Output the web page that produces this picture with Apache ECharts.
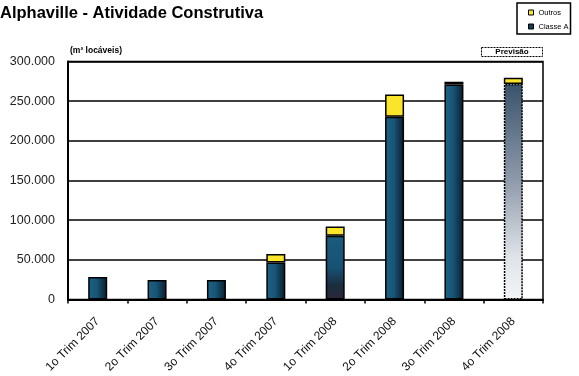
<!DOCTYPE html>
<html>
<head>
<meta charset="utf-8">
<script src="https://cdn.jsdelivr.net/npm/echarts@6/dist/echarts.min.js"></script>
<style>
  html, body { margin: 0; padding: 0; background: #fff; }
  #chart { width: 579px; height: 376px; }
</style>
</head>
<body>
<div id="chart"></div>
<script>
// Quarterly leasable area (m²) in Alphaville
const categories = ['1o Trim 2007', '2o Trim 2007', '3o Trim 2007', '4o Trim 2007',
                    '1o Trim 2008', '2o Trim 2008', '3o Trim 2008', '4o Trim 2008'];
const classeA = [28500, 24500, 24500, 46500, 80500, 230500, 271000, 271500];
const outros  = [null, null, null, 11000, 11500, 28000, 3500, 8000];
const yTicks  = [0, 50000, 100000, 150000, 200000, 250000, 300000];
const forecastIndex = 7;   // last quarter is a forecast

const FONT = 'Liberation Sans, Arial, sans-serif';

const blueGrad = {
  type: 'linear', x: 0, y: 0, x2: 1, y2: 0,
  colorStops: [
    { offset: 0, color: '#1d6286' },
    { offset: 0.45, color: '#175677' },
    { offset: 1, color: '#0a1b2b' }
  ]
};
const darkBottomGrad = {
  type: 'linear', x: 0, y: 0, x2: 0, y2: 1,
  colorStops: [
    { offset: 0, color: '#1a5b7e' },
    { offset: 0.5, color: '#175274' },
    { offset: 0.78, color: '#1b2d40' },
    { offset: 1, color: '#2b2835' }
  ]
};
const forecastGrad = {
  type: 'linear', x: 0, y: 0, x2: 0, y2: 1,
  colorStops: [
    { offset: 0, color: '#39536c' },
    { offset: 0.45, color: '#8f9bab' },
    { offset: 0.8, color: '#dfe3e8' },
    { offset: 1, color: '#f3f5f7' }
  ]
};

const classeAData = classeA.map((v, i) => {
  if (i === forecastIndex) {
    return { value: v, itemStyle: { color: forecastGrad, borderType: [2, 1] } };
  }
  if (i === 4) {
    return { value: v, itemStyle: { color: darkBottomGrad } };
  }
  return v;
});
const outrosData = outros.map(v => (v == null ? '-' : v));

const chart = echarts.init(document.getElementById('chart'), null, { renderer: 'canvas' });

chart.setOption({
  backgroundColor: '#fff',
  animation: false,
  title: {
    text: 'Alphaville - Atividade Construtiva',
    left: 0, top: 5, padding: 0,
    textStyle: { fontFamily: FONT, fontSize: 16.5, fontWeight: 'bold', color: '#000' }
  },
  legend: {
    orient: 'vertical',
    left: 517, top: 3,
    padding: [5, 2, 3, 11],
    itemGap: 5,
    itemWidth: 5, itemHeight: 5,
    borderColor: '#000', borderWidth: 1.5,
    textStyle: { fontFamily: FONT, fontSize: 7.5, color: '#000', lineHeight: 9 },
    data: [
      { name: 'Outros', icon: 'rect', itemStyle: { color: '#f9e52a', borderColor: '#000', borderWidth: 1 } },
      { name: 'Classe A', icon: 'rect', itemStyle: { color: '#123d58', borderColor: '#000', borderWidth: 1 } }
    ]
  },
  grid: {
    left: 68, right: 36, top: 61.5, bottom: 76.5,
    show: true, borderColor: '#000', borderWidth: 1.5, backgroundColor: 'transparent'
  },
  xAxis: {
    type: 'category',
    data: categories,
    axisLine: { lineStyle: { color: '#000', width: 2 } },
    axisTick: { show: true, length: 4, lineStyle: { color: '#000', width: 1.5 } },
    axisLabel: {
      rotate: 45, margin: 20, interval: 0,
      fontFamily: FONT, fontSize: 12, color: '#111'
    }
  },
  yAxis: {
    type: 'value',
    min: yTicks[0], max: yTicks[yTicks.length - 1], interval: yTicks[1] - yTicks[0],
    name: '(m² locáveis)',
    nameLocation: 'end',
    nameGap: 6,
    nameTextStyle: { fontFamily: FONT, fontSize: 8.5, fontWeight: 'bold', color: '#000', align: 'left', padding: [0, 0, 0, 2] },
    axisLine: { show: true, lineStyle: { color: '#000', width: 2 } },
    axisTick: { show: false },
    splitLine: { lineStyle: { color: '#000', width: 1.5 } },
    axisLabel: {
      margin: 13,
      fontFamily: FONT, fontSize: 12.5, color: '#222',
      formatter: v => (v === 0 ? '0' : Math.round(v / 1000) + '.000')
    }
  },
  series: [
    {
      name: 'Classe A', type: 'bar', stack: 'total', barWidth: 19,
      itemStyle: { color: blueGrad, borderColor: '#000', borderWidth: 1.5 },
      data: classeAData
    },
    {
      name: 'Outros', type: 'bar', stack: 'total', barWidth: 19,
      itemStyle: { color: '#f9e52a', borderColor: '#000', borderWidth: 1.5 },
      data: outrosData
    }
  ],
  graphic: [
    {
      type: 'group', left: 481, top: 47,
      children: [
        { type: 'rect', shape: { x: 0, y: 0, width: 61, height: 9 },
          style: { fill: '#fff', stroke: '#000', lineWidth: 1, lineDash: [2, 1] } },
        { type: 'text', x: 30.5, y: 4.5,
          style: { text: 'Previsão', fontFamily: FONT, fontSize: 8, fontWeight: 'bold',
                   fill: '#000', align: 'center', verticalAlign: 'middle' } }
      ]
    }
  ]
});
</script>
</body>
</html>
